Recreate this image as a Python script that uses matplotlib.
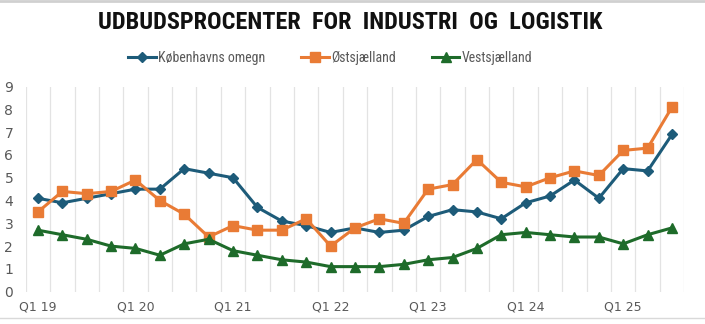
import matplotlib
matplotlib.use('Agg')
from matplotlib import pyplot as plt
from matplotlib.lines import Line2D
from matplotlib import font_manager
import numpy as np

# Quarters Q1 19 .. Q3 25
quarters = ['Q1 19', 'Q2 19', 'Q3 19', 'Q4 19',
            'Q1 20', 'Q2 20', 'Q3 20', 'Q4 20',
            'Q1 21', 'Q2 21', 'Q3 21', 'Q4 21',
            'Q1 22', 'Q2 22', 'Q3 22', 'Q4 22',
            'Q1 23', 'Q2 23', 'Q3 23', 'Q4 23',
            'Q1 24', 'Q2 24', 'Q3 24', 'Q4 24',
            'Q1 25', 'Q2 25', 'Q3 25']

kbh_omegn = [4.1, 3.9, 4.1, 4.3, 4.5, 4.5, 5.4, 5.2, 5.0, 3.7, 3.1, 2.9, 2.6, 2.8,
             2.6, 2.7, 3.3, 3.6, 3.5, 3.2, 3.9, 4.2, 4.9, 4.1, 5.4, 5.3, 6.9]
oestsjaelland = [3.5, 4.4, 4.3, 4.4, 4.9, 4.0, 3.4, 2.4, 2.9, 2.7, 2.7, 3.2, 2.0, 2.8,
                 3.2, 3.0, 4.5, 4.7, 5.8, 4.8, 4.6, 5.0, 5.3, 5.1, 6.2, 6.3, 8.1]
vestsjaelland = [2.7, 2.5, 2.3, 2.0, 1.9, 1.6, 2.1, 2.3, 1.8, 1.6, 1.4, 1.3, 1.1, 1.1,
                 1.1, 1.2, 1.4, 1.5, 1.9, 2.5, 2.6, 2.5, 2.4, 2.4, 2.1, 2.5, 2.8]

series = {
    'Københavns omegn': (kbh_omegn, '#1d5b79', 'D', 5.5),
    'Østsjælland': (oestsjaelland, '#e97b35', 's', 6.5),
    'Vestsjælland': (vestsjaelland, '#1e6b2a', '^', 7),
}

installed = {f.name for f in font_manager.fontManager.ttflist}
cond = [f for f in ['Roboto Condensed', 'Liberation Sans Narrow', 'Roboto'] if f in installed]
cond = cond + ['DejaVu Sans']

fig = plt.figure(figsize=(7.05, 3.24), dpi=100)
ax = fig.add_axes([0.0365, 0.0997, 0.934, 0.633])

x = np.arange(len(quarters))
for name, (vals, color, marker, ms) in series.items():
    ax.plot(x, vals, color=color, marker=marker, markersize=ms, linewidth=2.2, label=name)

ax.set_xlim(-0.5, len(quarters) - 0.5)
ax.set_ylim(0, 9)
ax.set_yticks(range(0, 10))
ax.set_xticks(x[::4])
ax.set_xticklabels(quarters[::4])
ax.set_xticks(np.arange(-0.5, len(quarters), 1), minor=True)
ax.grid(True, which='minor', axis='x', color='#e3e3e3', linewidth=0.9)
ax.grid(False, which='major')
ax.tick_params(which='both', length=0)
ax.tick_params(axis='y', labelsize=10, colors='#595959', pad=9)
ax.tick_params(axis='x', labelsize=9, colors='#595959', pad=6)
for s in ax.spines.values():
    s.set_visible(False)
ax.set_axisbelow(True)

fig.text(0.497, 0.93, 'UDBUDSPROCENTER  FOR  INDUSTRI  OG  LOGISTIK', ha='center', va='center',
         fontsize=17.5, fontweight='bold', family=cond, color='#111111')

handles, labels = ax.get_legend_handles_labels()
fig.legend(handles, labels, loc='center', bbox_to_anchor=(0.468, 0.82), ncol=3, frameon=False,
           prop={'family': cond, 'size': 10}, labelcolor='#595959', handlelength=2.0,
           columnspacing=2.6, handletextpad=0.15)

fig.add_artist(Line2D([0, 1], [0.997, 0.997], color='#d0d0d0', linewidth=2))
fig.add_artist(Line2D([0, 1], [0.018, 0.018], color='#d9d9d9', linewidth=1))

fig.savefig('out.png', dpi=100)
